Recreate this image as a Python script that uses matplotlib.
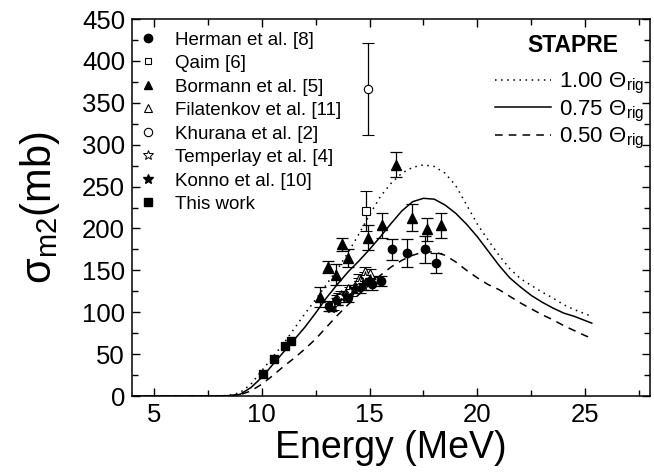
import numpy as np
import matplotlib
matplotlib.use('Agg')
import matplotlib.pyplot as plt
from matplotlib.lines import Line2D

plt.rcParams['font.family'] = ['Liberation Sans', 'DejaVu Sans']
plt.rcParams['mathtext.fontset'] = 'custom'
plt.rcParams['mathtext.rm'] = 'Liberation Sans'
plt.rcParams['mathtext.it'] = 'Liberation Sans:italic'
plt.rcParams['mathtext.bf'] = 'Liberation Sans:bold'

# experimental data (energy MeV, cross section mb, error mb)
herman_e = [13.11, 13.49, 14.02, 14.57, 15.10, 15.54, 16.03, 16.76, 17.58, 18.09]
herman_s = [108, 115, 118, 130, 134, 137, 175, 171, 175, 159]
herman_err = [6, 6, 6, 7, 8, 6, 13, 17, 16, 12]

qaim_e = [14.83]
qaim_s = [221]
qaim_err = [24]

bormann_e = [12.71, 13.07, 13.45, 13.73, 14.00, 14.95, 15.57, 16.23, 16.96, 17.66, 18.32]
bormann_s = [118, 154, 145, 181, 165, 189, 204, 276, 213, 199, 204]
bormann_err = [12, 7, 13, 8, 11, 15, 15, 15, 16, 14, 15]

filat_e = [13.6, 14.0, 14.5, 14.8, 15.0]
filat_s = [118, 128, 140, 148, 146]
filat_err = [5, 5, 6, 6, 6]

khurana_e = [14.95]
khurana_s = [366]
khurana_err = [55]

temper_e = [13.3, 13.7, 14.1, 14.5, 14.8]
temper_s = [108, 120, 125, 135, 142]
temper_err = [5, 5, 5, 6, 6]

konno_e = [13.2, 13.5, 13.9, 14.3, 14.7, 15.0]
konno_s = [105, 113, 120, 128, 132, 138]
konno_err = [4, 4, 5, 5, 5, 5]

this_e = [10.06, 10.57, 11.09, 11.38]
this_s = [26, 44, 60, 66]

# STAPRE calculations
calc_e = [4, 8, 8.5, 9, 9.5, 10, 10.5, 11, 11.5, 12, 12.5, 13, 13.5, 14, 14.5, 15,
          15.5, 16, 16.5, 17, 17.5, 18, 18.5, 19, 19.5, 20, 20.5, 21, 21.5, 22,
          22.5, 23, 23.5, 24, 24.5, 25, 25.3]
stapre_100 = [0, 0, 1, 4, 14, 30, 46, 62, 80, 98, 115, 133, 151, 171, 193, 216,
              238, 254, 266, 273, 276, 274, 266, 251, 228, 205, 186, 168, 152, 140,
              132, 124, 117, 109, 103, 98, 95]
stapre_075 = [0, 0, 0.5, 2, 10, 22, 37, 52, 67, 82, 99, 117, 133, 148, 161, 175,
              190, 206, 221, 232, 236, 235, 228, 218, 205, 190, 173, 156, 141, 130,
              120, 112, 105, 99, 95, 90, 87]
stapre_050 = [0, 0, 0.3, 1.5, 6, 14, 24, 35, 45, 56, 68, 82, 96, 109, 121, 133,
              144, 154, 162, 168, 172, 172, 168, 160, 150, 141, 133, 127, 119, 111,
              104, 97, 91, 84, 78, 72, 69]

fig = plt.figure(figsize=(6.54, 4.76), dpi=100)
ax = fig.add_axes([0.202, 0.168, 0.792, 0.792])

ax.plot(calc_e, stapre_100, ls=(0, (1, 3)), color='k', lw=1.1)
ax.plot(calc_e, stapre_075, ls='-', color='k', lw=1.1)
ax.plot(calc_e, stapre_050, ls=(0, (5, 4)), color='k', lw=1.1)

eb = dict(ls='none', ecolor='k', elinewidth=0.9, capsize=4, capthick=0.9, mec='k')
ax.errorbar(herman_e, herman_s, yerr=herman_err, fmt='o', mfc='k', ms=6, **eb)
ax.errorbar(qaim_e, qaim_s, yerr=qaim_err, fmt='s', mfc='w', ms=5.5, mew=0.8, **eb)
ax.errorbar(bormann_e, bormann_s, yerr=bormann_err, fmt='^', mfc='k', ms=7, **eb)
ax.errorbar(filat_e, filat_s, yerr=filat_err, fmt='^', mfc='w', ms=6.5, mew=0.8, **eb)
ax.errorbar(khurana_e, khurana_s, yerr=khurana_err, fmt='o', mfc='w', ms=6, mew=0.8, **eb)
ax.errorbar(temper_e, temper_s, yerr=temper_err, fmt='*', mfc='w', ms=8, mew=0.7, **eb)
ax.errorbar(konno_e, konno_s, yerr=konno_err, fmt='*', mfc='k', ms=8, **eb)
ax.plot(this_e, this_s, 's', color='k', ms=6)

ax.set_xlim(4, 28)
ax.set_ylim(0, 450)
ax.set_xticks([5, 10, 15, 20, 25])
ax.set_xticks(np.arange(5, 28, 2.5), minor=True)
ax.set_yticks(np.arange(0, 451, 50))
ax.set_yticks(np.arange(0, 451, 25), minor=True)
ax.tick_params(which='both', direction='in', top=True, right=True, width=1, labelsize=18.5)
ax.tick_params(which='major', length=6, pad=5)
ax.tick_params(which='minor', length=4)
for s in ax.spines.values():
    s.set_linewidth(1.1)

ax.set_xlabel('Energy (MeV)', fontsize=27, labelpad=2)
ax.set_ylabel('σ$_{\\rm m2}$(mb)', fontsize=30)
ax.yaxis.set_label_coords(-0.135, 0.5)

# experimental legend
exp_handles = [
    Line2D([], [], ls='none', marker='o', color='k', ms=6),
    Line2D([], [], ls='none', marker='s', mfc='w', mec='k', ms=5, mew=0.8),
    Line2D([], [], ls='none', marker='^', color='k', ms=6),
    Line2D([], [], ls='none', marker='^', mfc='w', mec='k', ms=6, mew=0.8),
    Line2D([], [], ls='none', marker='o', mfc='w', mec='k', ms=6, mew=0.8),
    Line2D([], [], ls='none', marker='*', mfc='w', mec='k', ms=7, mew=0.7),
    Line2D([], [], ls='none', marker='*', color='k', ms=7),
    Line2D([], [], ls='none', marker='s', color='k', ms=5.5),
]
exp_labels = ['Herman et al. [8]', 'Qaim [6]', 'Bormann et al. [5]',
              'Filatenkov et al. [11]', 'Khurana et al. [2]',
              'Temperlay et al. [4]', 'Konno et al. [10]', 'This work']
leg1 = ax.legend(exp_handles, exp_labels, loc='upper left', bbox_to_anchor=(-0.005, 0.992),
                 frameon=False, fontsize=13.5, handlelength=1.0, handletextpad=0.9,
                 labelspacing=0.34, borderaxespad=0.2, borderpad=0.3)
ax.add_artist(leg1)

calc_handles = [Line2D([], [], ls=(0, (1, 3)), color='k', lw=1.1),
                Line2D([], [], ls='-', color='k', lw=1.1),
                Line2D([], [], ls=(0, (5, 4)), color='k', lw=1.1)]
calc_labels = [r'1.00 $\Theta_{\rm rig}$', r'0.75 $\Theta_{\rm rig}$', r'0.50 $\Theta_{\rm rig}$']
leg2 = ax.legend(calc_handles, calc_labels, loc='upper right', bbox_to_anchor=(1.005, 0.885),
                 frameon=False, fontsize=16, handlelength=2.5, handletextpad=0.35,
                 labelspacing=0.1, borderaxespad=0.1, borderpad=0.3)
ax.text(0.851, 0.931, 'STAPRE', transform=ax.transAxes, ha='center', va='center',
        fontsize=16.5, fontweight='bold')

fig.savefig('out.png', dpi=100)
